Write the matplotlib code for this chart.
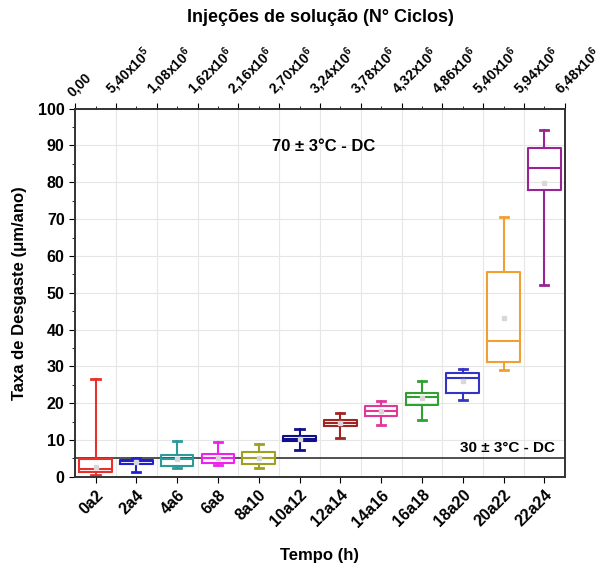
"""Box plot of wear rate per time interval with a secondary cycles axis."""

import matplotlib

matplotlib.use("Agg")
import matplotlib.pyplot as plt  # noqa: E402
from matplotlib.ticker import MultipleLocator  # noqa: E402

plt.rcParams["font.family"] = ["Liberation Sans", "DejaVu Sans"]
plt.rcParams["font.weight"] = "bold"
plt.rcParams["mathtext.fontset"] = "custom"
plt.rcParams["mathtext.rm"] = "Liberation Sans:bold"
plt.rcParams["mathtext.bf"] = "Liberation Sans:bold"
plt.rcParams["mathtext.default"] = "bf"

categories = ["0a2", "2a4", "4a6", "6a8", "8a10", "10a12", "12a14",
              "14a16", "16a18", "18a20", "20a22", "22a24"]
whislo = [0.5, 1.4, 2.4, 3.3, 2.5, 7.3, 10.5, 14.1, 15.5, 21.0, 28.9, 52.2]
q1 = [1.2, 3.5, 3.0, 3.7, 3.4, 9.6, 13.7, 16.4, 19.6, 22.7, 31.3, 78.0]
med = [2.1, 4.2, 4.8, 5.0, 5.0, 10.2, 14.5, 17.8, 21.7, 26.8, 37.0, 84.0]
q3 = [4.8, 4.6, 6.0, 6.1, 6.7, 11.0, 15.3, 19.3, 22.7, 28.2, 55.6, 89.4]
whishi = [26.5, 5.1, 9.6, 9.4, 9.0, 13.0, 17.3, 20.5, 25.9, 29.3, 70.7, 94.3]
means = [2.8, 4.1, 4.9, 5.1, 5.2, 10.2, 14.5, 17.8, 21.5, 25.9, 43.1, 79.8]
colors = ["#e8302c", "#2020d0", "#2a9a9a", "#f020f0", "#a0a020", "#10108a",
          "#a02424", "#e0389a", "#30a030", "#3434c4", "#f0a030", "#9a2494"]

cycle_labels = ["0,00", "5,40x10$^5$", "1,08x10$^6$", "1,62x10$^6$",
                "2,16x10$^6$", "2,70x10$^6$", "3,24x10$^6$", "3,78x10$^6$",
                "4,32x10$^6$", "4,86x10$^6$", "5,40x10$^6$", "5,94x10$^6$",
                "6,48x10$^6$"]

fig = plt.figure(figsize=(6.06, 5.69), dpi=100)
ax = fig.add_axes([0.124, 0.162, 0.808, 0.647])

stats = [
    dict(label=c, whislo=a, q1=b, med=m, q3=d, whishi=e, mean=mu, fliers=[])
    for c, a, b, m, d, e, mu in zip(categories, whislo, q1, med, q3, whishi, means)
]
positions = list(range(1, len(categories) + 1))
bp = ax.bxp(stats, positions=positions, widths=0.8, showmeans=True,
            patch_artist=False, capwidths=0.2,
            meanprops=dict(marker="s", markersize=3, markerfacecolor="#d8d8d8",
                           markeredgecolor="#d8d8d8"))
for i, col in enumerate(colors):
    bp["boxes"][i].set(color=col, linewidth=1.5)
    bp["medians"][i].set(color=col, linewidth=1.5)
    for w in bp["whiskers"][2 * i:2 * i + 2]:
        w.set(color=col, linewidth=1.5)
    for c in bp["caps"][2 * i:2 * i + 2]:
        c.set(color=col, linewidth=2)

ax.axhline(5, color="#333333", linewidth=1.2, zorder=1)

ax.set_xlim(0.5, len(categories) + 0.5)
ax.set_ylim(0, 100)
ax.yaxis.set_major_locator(MultipleLocator(10))
ax.yaxis.set_minor_locator(MultipleLocator(5))
ax.set_xticks(positions)
ax.set_xticklabels(categories, rotation=45, ha="right", rotation_mode="anchor",
                   fontsize=11.5, fontweight="bold")
ax.tick_params(axis="y", labelsize=11.5, direction="out", length=4)
ax.tick_params(axis="y", which="minor", length=2)
ax.tick_params(axis="x", direction="out", length=4)
ax.set_xlabel("Tempo (h)", fontsize=12, fontweight="bold", labelpad=13)
ax.set_ylabel("Taxa de Desgaste (\u03bcm/ano)", fontsize=12, fontweight="bold",
              labelpad=8)
ax.grid(True, axis="y", color="#e6e6e6", linewidth=0.8)
ax.set_axisbelow(True)

ax_top = ax.twiny()
ax_top.set_xlim(ax.get_xlim())
top_pos = [p - 0.5 for p in positions] + [len(categories) + 0.5]
ax_top.set_xticks(top_pos)
ax_top.set_xticks(positions, minor=True)
ax_top.set_xticklabels(cycle_labels, rotation=45, ha="left", rotation_mode="anchor",
                       fontsize=10, fontweight="bold")
ax_top.tick_params(axis="x", which="major", direction="out", length=4, pad=3)
ax_top.tick_params(axis="x", which="minor", direction="out", length=2)
ax_top.set_xlabel("Injeções de solução (N° Ciclos)", fontsize=13,
                  fontweight="bold", labelpad=16)
for xv in top_pos:
    ax.axvline(xv, color="#e6e6e6", linewidth=0.8, zorder=0)

for spine in list(ax.spines.values()) + list(ax_top.spines.values()):
    spine.set_linewidth(1.2)
    spine.set_color("#333333")

ax.text(6.6, 89.7, "70 ± 3°C - DC", ha="center", va="center",
        fontsize=12, fontweight="bold")
ax.text(11.1, 7.9, "30 ± 3°C - DC", ha="center", va="center",
        fontsize=11, fontweight="bold")

fig.savefig("out.png", dpi=100)
